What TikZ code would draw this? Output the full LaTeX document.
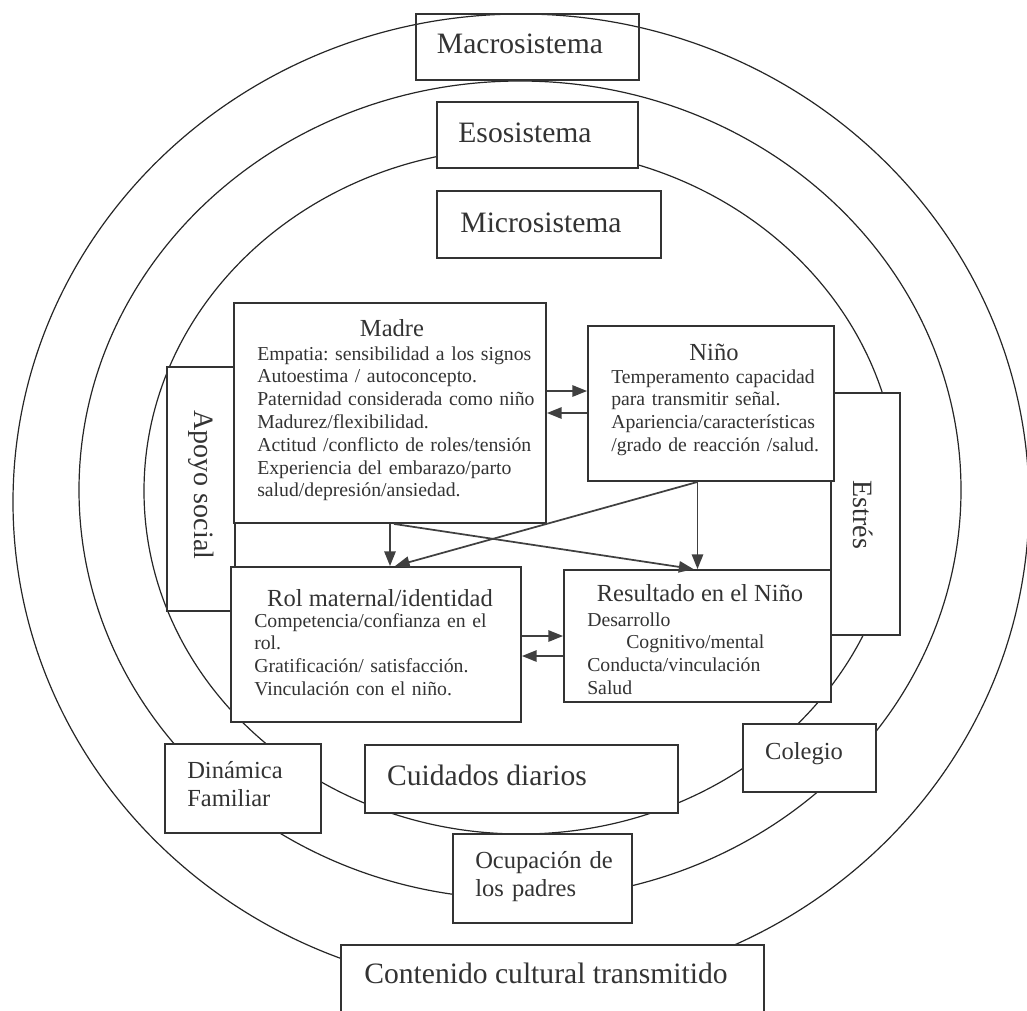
\documentclass[tikz,border=0pt]{standalone}
\usepackage{fontspec}
\setmainfont{Liberation Serif}
\usetikzlibrary{arrows.meta,fit,calc}
\newdimen\pxu \pxu=0.75pt
\frenchspacing
\begin{document}
\begin{tikzpicture}[x=0.75pt,y=-0.75pt,
  ring/.style={draw=black!85, line width=0.9pt},
  box/.style={draw=black!80, line width=1.4pt, fill=white, inner sep=0pt},
  openbox/.style={draw=black!80, line width=1.4pt, inner sep=0pt},
  arr/.style={draw=black!75, line width=1.3pt, -{Triangle[length=11pt,width=8.5pt]}},
  txt/.style={text=black!80, inner sep=0pt},
  big/.style={txt, font=\fontsize{22.2}{26}\selectfont},
  mid/.style={txt, font=\fontsize{18.4}{21.5}\selectfont},
  midml/.style={mid, text width=200pt, align=left},
  side/.style={txt, font=\fontsize{21}{24}\selectfont, rotate=-90},
  body/.style={txt, font=\fontsize{14.8}{17.1}\selectfont, text width=240pt, align=left}]
\useasboundingbox (0,0) rectangle (1027,1010);

% ecological rings
\draw[ring] (521,502) ellipse [x radius=381pt, y radius=366pt];
\draw[ring] (520,490) ellipse [x radius=330.75pt, y radius=306.75pt];
\draw[ring] (521,491) ellipse [x radius=282.75pt, y radius=257.25pt];

% system labels
\node[openbox, fit={(416,14) (639,80)}] (macro) {};
\node[big, anchor=base] (macrot) at (520,53) {Macrosistema};
\node[box, fit={(437,102) (638,168)}] (eso) {};
\node[big, anchor=base] (esot) at (525,142) {Esosistema};
\node[box, fit={(437,191) (661,258)}] (micro) {};
\node[big, anchor=base] (microt) at (541,232) {Microsistema};

% side boxes
\node[box, fit={(167,367) (235,611)}] (apoyo) {};
\node[side] (apoyot) at (201,485) {Apoyo social};
\node[box, fit={(831,393) (900,635)}] (estres) {};
\node[side] (estrest) at (863,515) {Estrés};

% Madre
\node[box, fit={(234,303) (546,523)}] (madre) {};
\node[mid, anchor=base] (madret) at (392,336) {Madre};
\node[body, anchor=base west] (madreb) at (257,360) {Empatia: sensibilidad a los signos\\
Autoestima / autoconcepto.\\
Paternidad considerada como niño\\
Madurez/flexibilidad.\\
Actitud /conflicto de roles/tensión\\
\makebox[270\pxu][s]{Experiencia del embarazo/parto}\\
salud/depresión/ansiedad.};

% Niño
\node[box, fit={(588,326) (834,481)}] (nino) {};
\node[mid, anchor=base] (ninot) at (714,360) {Niño};
\node[body, anchor=base west] (ninob) at (611,383) {\makebox[206\pxu][s]{Temperamento capacidad}\\
para transmitir señal.\\
Apariencia/características\\
/grado de reacción /salud.};

% Rol maternal
\node[box, fit={(231,567) (521,722)}] (rol) {};
\node[mid, anchor=base] (rolt) at (380,606) {Rol maternal/identidad};
\node[body, anchor=base west] (rolb) at (254,627) {\makebox[249\pxu][s]{Competencia/confianza en el}\\
rol.\\
Gratificación/ satisfacción.\\
Vinculación con el niño.};

% Resultado
\node[box, fit={(564,570) (831,702)}] (res) {};
\node[mid, anchor=base] (rest) at (700,601) {Resultado en el Niño};
\node[body, anchor=base west] (resb) at (587,626) {Desarrollo\\
\hspace*{39\pxu}Cognitivo/mental\\
Conducta/vinculación\\
Salud};

% lower boxes
\node[box, fit={(743,724) (876,792)}] (colegio) {};
\node[mid, anchor=base] (colegiot) at (804,759) {Colegio};
\node[box, fit={(165,744) (321,833)}] (dinamica) {};
\node[midml, anchor=base west] (dinamicat) at (187,778) {Dinámica\\ Familiar};
\node[box, fit={(365,745) (678,813)}] (cuidados) {};
\node[big, anchor=base] (cuidadost) at (487,785) {Cuidados diarios};
\node[box, fit={(453,834) (632,923)}] (ocupacion) {};
\node[midml, anchor=base west] (ocupaciont) at (475,868) {Ocupación de\\ los padres};
\node[box, fit={(341,945) (764,1040)}] (contenido) {};
\node[big, anchor=base] (contenidot) at (546,983) {Contenido cultural transmitido};

% connectors
\draw[arr] ([yshift=16.5pt]madre.east) -- ([yshift=16.5pt]madre.east -| nino.west);
\draw[arr] (madre.east -| nino.west) -- (madre.east);
\draw[arr] (madre.south) -- (madre.south |- rol.north);
\draw[arr] ([xshift=3pt]madre.south) -- ([xshift=-3pt]res.north);
\draw[arr] (res.north |- nino.south) -- (res.north);
\draw[arr] (res.north |- nino.south) -- ([xshift=14.25pt]rol.north);
\draw[arr] (res.west -| rol.east) -- (res.west);
\draw[arr] ([yshift=-15pt]res.west) -- ([yshift=-15pt]res.west -| rol.east);
\end{tikzpicture}
\end{document}
